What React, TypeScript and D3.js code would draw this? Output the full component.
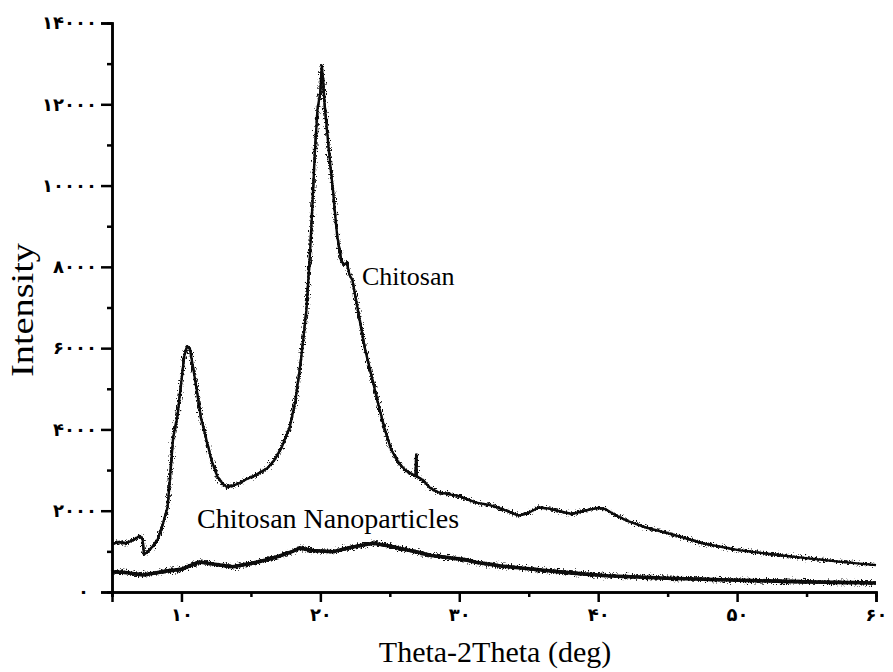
import React, { useEffect, useRef } from 'react'
import * as d3 from 'd3'

const [W, H] = [893, 672]
const margin = { left: 112, right: 17, top: 23, bottom: 80 }

// [2theta, intensity]
const chitosan: [number, number][] = [
  [5.0, 1180], [5.5, 1230], [6.0, 1200], [6.5, 1270], [7.0, 1380], [7.2, 1300], [7.3, 920],
  [7.6, 1000], [8.0, 1150], [8.3, 1300], [8.6, 1600], [9.0, 2090], [9.2, 2900], [9.4, 3800],
  [9.7, 4300], [10.0, 5200], [10.2, 5800], [10.4, 6050], [10.6, 6000], [10.8, 5600],
  [11.1, 4970], [11.4, 4300], [11.8, 3740], [12.2, 3200], [12.6, 2830], [13.0, 2650],
  [13.3, 2580], [13.7, 2620], [14.2, 2680], [14.7, 2780], [15.2, 2850], [15.7, 2950],
  [16.2, 3050], [16.7, 3250], [17.2, 3550], [17.8, 4060], [18.2, 4700], [18.6, 5700],
  [19.0, 6940], [19.3, 8600], [19.6, 10800], [19.8, 11900], [20.0, 12300], [20.1, 12950],
  [20.2, 12600], [20.3, 12030], [20.6, 10900], [20.9, 9900], [21.2, 8800], [21.5, 8150],
  [21.7, 8050], [21.9, 8100], [22.1, 7800], [22.3, 7680], [22.7, 6940], [23.2, 6000],
  [23.7, 5300], [24.1, 4720], [24.6, 4050], [25.1, 3500], [25.6, 3200], [26.1, 3000],
  [26.6, 2900], [26.85, 2850], [26.9, 3380], [26.95, 2850], [27.4, 2750], [27.9, 2560],
  [28.5, 2450], [29.0, 2420], [30.0, 2360], [31.2, 2200], [32.2, 2140], [33.0, 2050],
  [34.3, 1880], [35.0, 1950], [35.7, 2080], [36.5, 2050], [37.3, 1980], [38.1, 1920],
  [39.0, 2000], [40.0, 2070], [40.5, 2040], [41.2, 1900], [42.1, 1750], [43.5, 1580],
  [45.4, 1410], [47.5, 1200], [50.1, 1030], [52.5, 930], [54.8, 840], [57.5, 740], [60.0, 660],
]

const nanoparticles: [number, number][] = [
  [5.0, 500], [6.0, 480], [7.2, 420], [8.0, 460], [9.0, 520], [10.0, 560], [11.3, 740],
  [12.0, 700], [13.7, 620], [15.0, 700], [16.0, 780], [17.0, 880], [18.0, 1000], [18.5, 1080],
  [19.5, 1020], [20.9, 990], [22.0, 1080], [23.0, 1150], [23.8, 1200], [25.0, 1130],
  [26.0, 1050], [26.9, 990], [28.0, 900], [30.5, 790], [31.2, 730], [33.0, 640], [35.9, 540],
  [38.0, 470], [40.6, 400], [45.0, 340], [50.1, 290], [55.0, 250], [60.0, 220],
]

const xMajor = [10, 20, 30, 40, 50, 60]
const xMinor = [5, 15, 25, 35, 45, 55]
const yMajor = [0, 2000, 4000, 6000, 8000, 10000, 12000, 14000]
const yMinor = [1000, 3000, 5000, 7000, 9000, 11000, 13000]

const persian = (n: number) => String(n).replace(/\d/g, d => '۰۱۲۳۴۵۶۷۸۹'[+d])

export default function App() {
  const ref = useRef<SVGSVGElement>(null)

  const x = d3.scaleLinear().domain([5, 60]).range([margin.left, W - margin.right])
  const y = d3.scaleLinear().domain([0, 14000]).range([H - margin.bottom, margin.top])
  const line = d3.line<[number, number]>().x(d => x(d[0])).y(d => y(d[1]))

  useEffect(() => {
    const svg = d3.select(ref.current)
    svg.selectAll('g.axis').remove()
    const style = (g: any) => {
      g.attr('font-size', null).attr('font-family', null)
      g.selectAll('path').attr('stroke-width', 2.5).attr('stroke', '#000')
      g.selectAll('line').attr('stroke-width', 2.5).attr('stroke', '#000')
      g.selectAll('text')
        .style('font-family', '"DejaVu Sans"').style('font-weight', 'bold')
        .style('font-size', '18px').attr('fill', '#000')
    }
    svg.append('g').attr('class', 'axis').attr('transform', `translate(0,${H - margin.bottom})`)
      .call(d3.axisBottom(x).tickValues(xMinor).tickSize(5).tickFormat(() => ''))
      .call(style)
    svg.append('g').attr('class', 'axis').attr('transform', `translate(0,${H - margin.bottom})`)
      .call(d3.axisBottom(x).tickValues(xMajor).tickSize(10).tickPadding(6).tickFormat(d => persian(+d)))
      .call(style)
    svg.append('g').attr('class', 'axis').attr('transform', `translate(${margin.left},0)`)
      .call(d3.axisLeft(y).tickValues(yMinor).tickSize(5).tickFormat(() => ''))
      .call(style)
    svg.append('g').attr('class', 'axis').attr('transform', `translate(${margin.left},0)`)
      .call(d3.axisLeft(y).tickValues(yMajor).tickSize(11).tickPadding(4).tickFormat(d => persian(+d)))
      .call(style)
      .selectAll('text').filter((d: any) => d === 0).attr('dx', -8)
  }, [])

  return (
    <svg ref={ref} width={W} height={H} style={{ position: 'absolute', left: 0, top: 0, background: '#fff' }}>
      <defs>
        {/* scanner noise look of the measured trace */}
        <filter id="grain" x="-2%" y="-10%" width="104%" height="120%">
          <feTurbulence type="fractalNoise" baseFrequency="1.2 0.5" numOctaves={2} seed={3} result="n" />
          <feDisplacementMap in="SourceGraphic" in2="n" scale={9} xChannelSelector="R" yChannelSelector="G" result="d" />
          <feMerge>
            <feMergeNode in="SourceGraphic" />
            <feMergeNode in="d" />
          </feMerge>
        </filter>
      </defs>
      <g filter="url(#grain)">
        <path d={line(chitosan) ?? ''} fill="none" stroke="#111" strokeWidth={2.4} strokeLinejoin="round" />
        <path d={line(nanoparticles) ?? ''} fill="none" stroke="#111" strokeWidth={3.6} strokeLinejoin="round" />
      </g>
      <text x={362} y={285} fontFamily="Liberation Serif" fontSize={26}>Chitosan</text>
      <text x={197} y={528} fontFamily="Liberation Serif" fontSize={28}>Chitosan Nanoparticles</text>
      <text x={495} y={662} textAnchor="middle" fontFamily="Liberation Serif" fontSize={30}>Theta-2Theta (deg)</text>
      <text transform="translate(33,310) rotate(-90)" textAnchor="middle"
        fontFamily="Liberation Serif" fontSize={32} textLength={134} lengthAdjust="spacingAndGlyphs">Intensity</text>
    </svg>
  )
}
